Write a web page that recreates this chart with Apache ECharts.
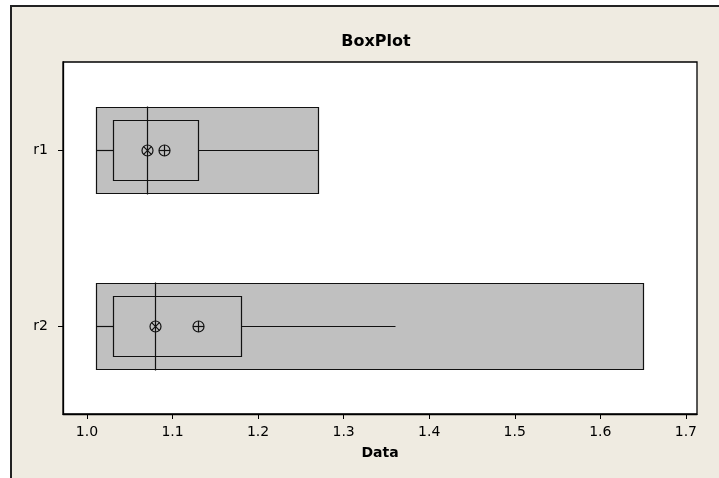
<!DOCTYPE html>
<html><head><meta charset="utf-8">
<script src="https://cdn.jsdelivr.net/npm/echarts@6/dist/echarts.min.js"></script>
<style>html,body{margin:0;padding:0;background:#fff}#c{width:719px;height:478px}</style>
</head><body><div id="c"></div>
<script>
const categories = ['r1', 'r2'];
const whiskerLow = [1.01, 1.01];
const q1 = [1.03, 1.03];
const median = [1.07, 1.08];
const q3 = [1.13, 1.18];
const whiskerHigh = [1.27, 1.36];
const mean = [1.09, 1.13];
const rangeLow = [1.01, 1.01];
const rangeHigh = [1.27, 1.65];
const xTicks = [1.0, 1.1, 1.2, 1.3, 1.4, 1.5, 1.6, 1.7];

const chart = echarts.init(document.getElementById('c'), null, {renderer: 'canvas'});
const data = categories.map((c, i) => [i, whiskerLow[i], q1[i], median[i], q3[i], whiskerHigh[i], mean[i], rangeLow[i], rangeHigh[i]]);
const px = v => Math.round(v) + 0.5;
const LC = '#111';
function renderItem(params, api) {
  const i = api.value(0);
  const band = api.size([0, 1])[1];
  const yc = api.coord([api.value(1), i])[1];
  const X = v => api.coord([v, i])[0];
  const ls = {stroke: LC, lineWidth: 1.2, fill: null};
  const oh = band * 0.49, ih = band * 0.34;
  const yo0 = px(yc - oh / 2), yo1 = px(yc + oh / 2);
  const yi0 = px(yc - ih / 2), yi1 = px(yc + ih / 2);
  const ym = px(yc);
  const wl = px(X(api.value(1))), bq1 = px(X(api.value(2))), med = px(X(api.value(3)));
  const bq3 = px(X(api.value(4))), wh = px(X(api.value(5))), mn = px(X(api.value(6)));
  const rl = px(X(api.value(7))), rh = px(X(api.value(8)));
  const r = 5.5, d = r * 0.7071;
  const line = (x1, y1, x2, y2) => ({type: 'line', shape: {x1, y1, x2, y2}, style: ls});
  return {
    type: 'group',
    children: [
      {type: 'rect', shape: {x: rl, y: yo0, width: rh - rl, height: yo1 - yo0}, style: {fill: '#C0C0C0', stroke: LC, lineWidth: 1.2}},
      {type: 'rect', shape: {x: bq1, y: yi0, width: bq3 - bq1, height: yi1 - yi0}, style: ls},
      line(wl, ym, bq1, ym),
      line(bq3, ym, wh, ym),
      line(med, yo0 - 1, med, yo1 + 1),
      {type: 'circle', shape: {cx: med, cy: ym, r: r}, style: ls},
      line(med - d, ym - d, med + d, ym + d),
      line(med - d, ym + d, med + d, ym - d),
      {type: 'circle', shape: {cx: mn, cy: ym, r: r}, style: ls},
      line(mn - r, ym, mn + r, ym),
      line(mn, ym - r, mn, ym + r)
    ]
  };
}

chart.setOption({
  backgroundColor: '#EFEBE1',
  animation: false,
  title: {
    text: 'BoxPlot', left: 371, top: 29, textAlign: 'center',
    textStyle: {fontFamily: 'DejaVu Sans', fontWeight: 'bold', fontSize: 16, color: '#000'}
  },
  graphic: [
    {type: 'rect', shape: {x: 0, y: 0, width: 719, height: 5}, style: {fill: '#fff'}},
    {type: 'rect', shape: {x: 0, y: 0, width: 10, height: 478}, style: {fill: '#fff'}},
    {type: 'polyline', shape: {points: [[11, 478], [11, 6], [719, 6]]}, style: {stroke: '#222', lineWidth: 2, fill: null}}
  ],
  grid: {left: 63, top: 62, right: 22, bottom: 64, show: true, backgroundColor: '#fff', borderColor: '#000', borderWidth: 1.3},
  xAxis: {
    type: 'value', min: 0.972, max: 1.713,
    name: 'Data', nameLocation: 'middle', nameGap: 32,
    nameTextStyle: {fontFamily: 'DejaVu Sans', fontWeight: 'bold', fontSize: 14, color: '#000'},
    axisLine: {show: true, lineStyle: {color: '#000', width: 1.3}},
    axisTick: {show: true, length: 5, customValues: xTicks, lineStyle: {color: '#000'}},
    axisLabel: {customValues: xTicks, formatter: v => Number(v).toFixed(1), color: '#000', fontFamily: 'DejaVu Sans', fontSize: 14, margin: 11},
    splitLine: {show: false}
  },
  yAxis: {
    type: 'category', data: categories, inverse: true,
    axisLine: {show: true, lineStyle: {color: '#000', width: 1.3}},
    axisTick: {show: true, alignWithLabel: true, length: 5, lineStyle: {color: '#000'}},
    axisLabel: {color: '#000', fontFamily: 'DejaVu Sans', fontSize: 14, margin: 15},
    splitLine: {show: false}
  },
  series: [{
    type: 'custom', renderItem: renderItem, data: data,
    encode: {x: [1, 2, 3, 4, 5, 6, 7, 8], y: 0}, clip: false
  }]
});
</script></body></html>
